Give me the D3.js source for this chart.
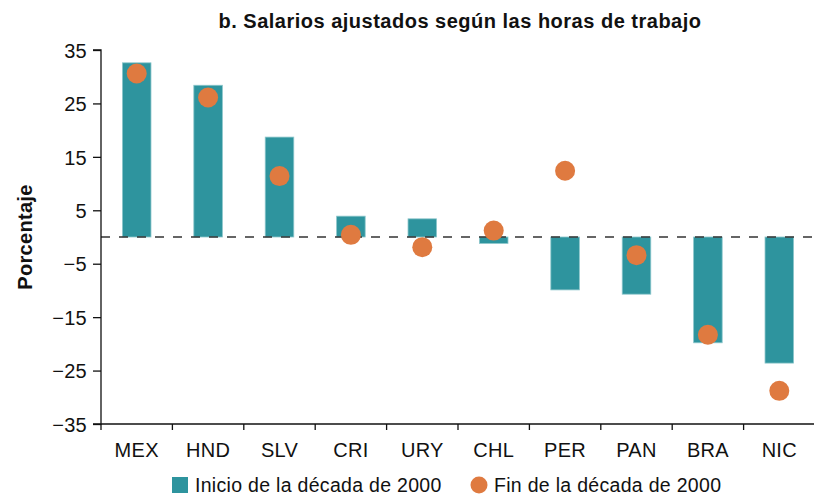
<!DOCTYPE html>
<html>
<head>
<meta charset="utf-8">
<script src="https://cdn.jsdelivr.net/npm/d3@7"></script>
<style>
    body { margin: 0; background: #fff; }
    text { font-family: "Liberation Sans", Arial, sans-serif; fill: #111; letter-spacing: 0.3px; }
</style>
</head>
<body>
<div id="chart"></div>
<script>
(function () {
    "use strict";

    // values
    var countries = ["MEX", "HND", "SLV", "CRI", "URY", "CHL", "PER", "PAN", "BRA", "NIC"];
    var inicio = [32.6, 28.4, 18.7, 3.9, 3.4, -1.2, -9.9, -10.7, -19.8, -23.6];
    var fin = [30.6, 26.1, 11.4, 0.4, -1.9, 1.2, 12.4, -3.4, -18.3, -28.8];
    var yTicks = [35, 25, 15, 5, -5, -15, -25, -35];

    var w = 814, h = 498;
    var left = 101, right = 815, top = 50, bottom = 424;
    var teal = "#2e949e", orange = "#df7a40";

    var svg = d3.select("#chart").append("svg")
        .attr("width", w)
        .attr("height", h);

    var x = d3.scaleBand().domain(countries).range([left, right]).paddingInner(0.6).paddingOuter(0.3);
    var y = d3.scaleLinear().domain([-35, 35]).range([bottom, top]);

    // title
    svg.append("text")
        .attr("x", 460).attr("y", 28)
        .attr("text-anchor", "middle")
        .style("font-size", "20px").style("font-weight", "bold")
        .style("letter-spacing", "0.5px")
        .text("b. Salarios ajustados según las horas de trabajo");

    // y label
    svg.append("text")
        .attr("transform", "translate(32," + y(0) + ") rotate(-90)")
        .attr("text-anchor", "middle")
        .style("font-size", "20px").style("font-weight", "bold")
        .text("Porcentaje");

    // bars
    svg.selectAll("rect.bar")
        .data(countries)
        .enter()
        .append("rect")
        .attr("class", "bar")
        .attr("x", function (d) { return x(d); })
        .attr("y", function (d, i) { return y(Math.max(0, inicio[i])); })
        .attr("width", x.bandwidth())
        .attr("height", function (d, i) { return Math.abs(y(inicio[i]) - y(0)); })
        .attr("fill", teal)
        .attr("stroke", "#8cc6cb")
        .attr("stroke-width", 0.8);

    // zero line
    svg.append("line")
        .attr("x1", left).attr("x2", w)
        .attr("y1", y(0)).attr("y2", y(0))
        .attr("stroke", "#333")
        .attr("stroke-width", 1.6)
        .attr("stroke-dasharray", "9,9");

    // dots
    svg.selectAll("circle.dot")
        .data(countries)
        .enter()
        .append("circle")
        .attr("class", "dot")
        .attr("cx", function (d) { return x(d) + x.bandwidth() / 2; })
        .attr("cy", function (d, i) { return y(fin[i]); })
        .attr("r", 10)
        .attr("fill", orange);

    // y axis
    var yAxis = svg.append("g")
        .attr("transform", "translate(" + left + ",0)")
        .call(d3.axisLeft(y).tickValues(yTicks).tickSize(8).tickPadding(6)
            .tickFormat(function (d) { return d < 0 ? "\u2212" + Math.abs(d) : d; }));
    yAxis.select(".domain").attr("d", "M-8," + top + "H0V" + bottom + "H-8").attr("stroke", "#111").attr("stroke-width", 1.3);
    yAxis.selectAll("line").attr("stroke", "#111").attr("stroke-width", 1.3);
    yAxis.selectAll("text").style("font-size", "20px").attr("dy", "0.36em");

    // x axis
    svg.append("line")
        .attr("x1", left).attr("x2", w)
        .attr("y1", bottom).attr("y2", bottom)
        .attr("stroke", "#111").attr("stroke-width", 1.3);

    svg.selectAll("line.xtick")
        .data(countries)
        .enter()
        .append("line")
        .attr("class", "xtick")
        .attr("x1", function (d) { return x(d) - x.step() * x.paddingInner() / 2; })
        .attr("x2", function (d) { return x(d) - x.step() * x.paddingInner() / 2; })
        .attr("y1", bottom).attr("y2", bottom + 6)
        .attr("stroke", "#111").attr("stroke-width", 1.3);

    svg.selectAll("text.xlab")
        .data(countries)
        .enter()
        .append("text")
        .attr("class", "xlab")
        .attr("x", function (d) { return x(d) + x.bandwidth() / 2; })
        .attr("y", 457)
        .attr("text-anchor", "middle")
        .style("font-size", "20px")
        .text(function (d) { return d; });

    // legend
    var lg = svg.append("g").attr("transform", "translate(172,492)");
    lg.append("rect").attr("x", 0).attr("y", -15).attr("width", 16).attr("height", 16).attr("fill", teal);
    lg.append("text").attr("x", 23).attr("y", 0).style("font-size", "19.5px").text("Inicio de la década de 2000");
    lg.append("circle").attr("cx", 307).attr("cy", -7).attr("r", 8.5).attr("fill", orange);
    lg.append("text").attr("x", 322).attr("y", 0).style("font-size", "19.5px").text("Fin de la década de 2000");
})();
</script>
</body>
</html>
